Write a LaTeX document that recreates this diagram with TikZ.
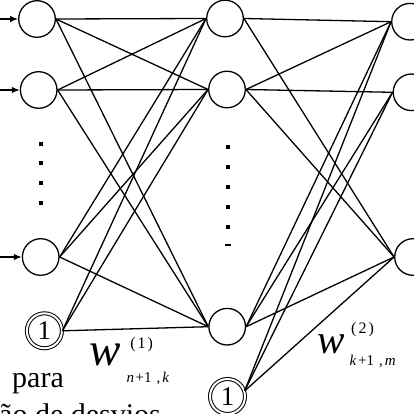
\documentclass[tikz,border=0pt]{standalone}
\usepackage{fontspec}
\setmainfont{Liberation Serif}
\usetikzlibrary{arrows.meta}
\begin{document}
\begin{tikzpicture}[x=1pt,y=-1pt,
  neuron/.style={circle,draw,line width=1.3pt,minimum size=36.6pt,inner sep=0pt},
  biasnode/.style={circle,draw,double,double distance=2pt,line width=1pt,minimum size=35pt,inner sep=0pt,font=\fontsize{27}{27}\selectfont},
  conn/.style={line width=1.3pt},
  inarrow/.style={line width=1.3pt,-{Latex[length=8pt,width=6.5pt]}},
  dotsq/.style={fill,minimum size=4.3pt,inner sep=0pt},
  wlabel/.style={anchor=base west,inner sep=0pt,font=\itshape},
  supidx/.style={inner sep=0pt,font=\fontsize{16}{16}\selectfont},
  subidx/.style={anchor=base west,inner sep=0pt,font=\fontsize{15}{15}\selectfont},
  txt/.style={anchor=base west,inner sep=0pt,font=\fontsize{30}{30}\selectfont}]
\useasboundingbox (0,0) rectangle (414,414);
% input layer
\node[neuron] (i1) at (37,19) {};
\node[neuron] (i2) at (38.7,90) {};
\node[neuron] (i3) at (40.7,257) {};
\node[biasnode] (ib) at (44.4,330.8) {1};
% hidden layer
\node[neuron] (h1) at (225,18.5) {};
\node[neuron] (h2) at (227,89.5) {};
\node[neuron] (h3) at (227.2,326.7) {};
\node[biasnode] (hb) at (227.5,396.5) {1};
% output layer
\node[neuron] (o1) at (410,21.7) {};
\node[neuron] (o2) at (411.5,92.3) {};
\node[neuron] (o3) at (413,257) {};
% input arrows
\coordinate (a1) at (0,19);
\coordinate (a2) at (0,90);
\coordinate (a3) at (0,257);
\draw[inarrow] (a1) -- (i1.west);
\draw[inarrow] (a2) -- (i2.west);
\draw[inarrow] (a3) -- (i3.west);
% dots
\node[dotsq] (d1) at (41.3,143.7) {};
\node[dotsq] (d2) at (41.3,163.3) {};
\node[dotsq] (d3) at (41.3,182.7) {};
\node[dotsq] (d4) at (41.3,202.8) {};
\node[dotsq] (e1) at (228,146.8) {};
\node[dotsq] (e2) at (228,167.2) {};
\node[dotsq] (e3) at (228,187.2) {};
\node[dotsq] (e4) at (228,207.2) {};
\node[dotsq] (e5) at (228,227.2) {};
\node[fill,minimum width=5.5pt,minimum height=1.8pt,inner sep=0pt] (e6) at (228,245) {};
% input -> hidden
\foreach \s in {i1,i2,i3,ib}
  \foreach \t in {h1,h2,h3}
    \draw[conn] (\s.east) -- (\t.west);
% hidden -> output
\draw[conn] (h1.east) -- (o1.west);
\draw[conn] (h1.east) -- (o3.west);
\foreach \t in {o1,o2,o3} {
  \draw[conn] (h2.east) -- (\t.west);
  \draw[conn] (h3.east) -- (\t.west);
  \draw[conn] (hb.18) -- (\t.west);
}
% labels
\node[wlabel,font=\fontsize{47}{47}\selectfont\itshape] (w1) at (89,365) {w};
\node[supidx] (s1) at (141.7,344.5) {(\kern2pt1\kern2pt)};
\node[subidx] (b1) at (126.5,382) {\textit{n}\kern1.5pt+1\kern5pt,\kern2pt\textit{k}};
\node[wlabel,font=\fontsize{41}{41}\selectfont\itshape] (w2) at (317,353) {w};
\node[supidx] (s2) at (362.5,329.5) {(\kern2pt2\kern2pt)};
\node[subidx] (b2) at (349.5,365.5) {\textit{k}\kern1.5pt+1\kern5pt,\kern2pt\textit{m}};
\node[txt] (t1) at (12,387) {para};
\node[txt] (t2) at (-1,424) {ão de desvios};
\end{tikzpicture}
\end{document}
